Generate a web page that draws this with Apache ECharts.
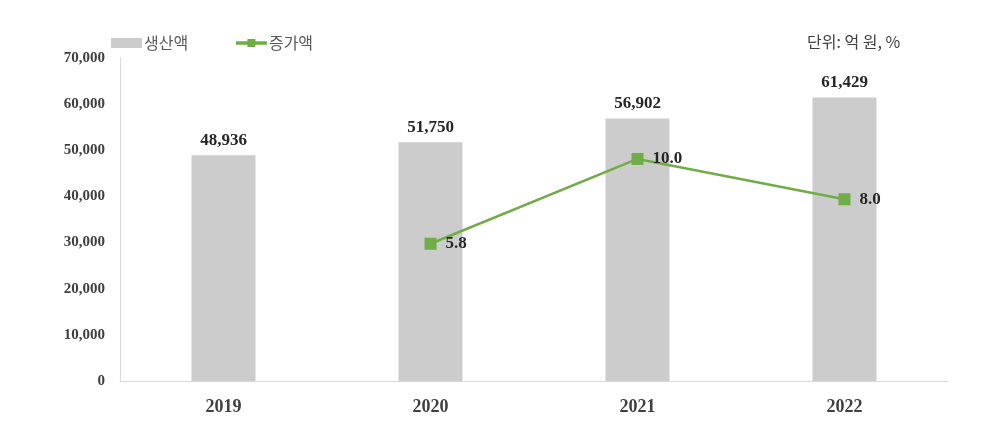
<!DOCTYPE html>
<html>
<head>
<meta charset="utf-8">
<script src="https://cdn.jsdelivr.net/npm/echarts@6/dist/echarts.min.js"></script>
<style>
html,body{margin:0;padding:0;background:#fff;}
#c{width:1002px;height:427px;}
</style>
</head>
<body>
<div id="c"></div>
<script>
const categories = ['2019', '2020', '2021', '2022'];
const production = [48936, 51750, 56902, 61429];
const increase = [null, 5.8, 10.0, 8.0];
const yTicks = [0, 10000, 20000, 30000, 40000, 50000, 60000, 70000];

const serif = '"Liberation Serif", "Times New Roman", serif';
const kr = '"Noto Sans CJK KR", sans-serif';
const chart = echarts.init(document.getElementById('c'));
chart.setOption({
  animation: false,
  backgroundColor: '#ffffff',
  legend: {
    left: 106, top: 30,
    itemGap: 46,
    itemWidth: 31, itemHeight: 10,
    textStyle: { fontFamily: kr, fontSize: 16, color: '#595959', padding: [0,0,0,-3] },
    data: [
      { name: '생산액', icon: 'rect' },
      { name: '증가액', lineStyle: { width: 3.5 } }
    ]
  },
  graphic: [{
    type: 'text', left: 807, top: 34,
    style: { text: '단위: 억 원, %', fontFamily: kr, fontSize: 16, fill: '#404040' }
  }],
  grid: { left: 120, right: 54, top: 58, bottom: 46, containLabel: false },
  xAxis: {
    type: 'category',
    data: categories,
    axisTick: { show: false },
    axisLine: { lineStyle: { color: '#d9d9d9', width: 1 } },
    axisLabel: { fontFamily: serif, fontWeight: 'bold', fontSize: 18, color: '#404040', margin: 17 }
  },
  yAxis: [{
    type: 'value', min: 0, max: 70000, interval: 10000,
    splitLine: { show: false },
    axisLine: { show: true, lineStyle: { color: '#d9d9d9' } },
    axisTick: { show: false },
    axisLabel: {
      fontFamily: serif, fontWeight: 'bold', fontSize: 15, color: '#404040', margin: 15,
      formatter: v => yTicks.includes(v) ? v.toLocaleString('en-US') : ''
    }
  }, {
    type: 'value', min: -1, max: 15, show: false, splitLine: { show: false }
  }],
  series: [{
    name: '생산액',
    type: 'bar',
    data: production,
    barWidth: 64,
    itemStyle: { color: '#cccccc' },
    label: {
      show: true, position: 'top', distance: 6,
      fontFamily: serif, fontWeight: 'bold', fontSize: 17, color: '#262626',
      formatter: p => p.value.toLocaleString('en-US')
    }
  }, {
    name: '증가액',
    type: 'line',
    yAxisIndex: 1,
    data: increase,
    symbol: 'rect',
    symbolSize: 12,
    lineStyle: { color: '#70ad47', width: 2.5 },
    itemStyle: { color: '#70ad47' },
    label: {
      show: true, position: 'right', distance: 9,
      fontFamily: serif, fontWeight: 'bold', fontSize: 17, color: '#262626',
      formatter: p => p.value == null ? '' : p.value.toFixed(1)
    }
  }]
});
</script>
</body>
</html>
